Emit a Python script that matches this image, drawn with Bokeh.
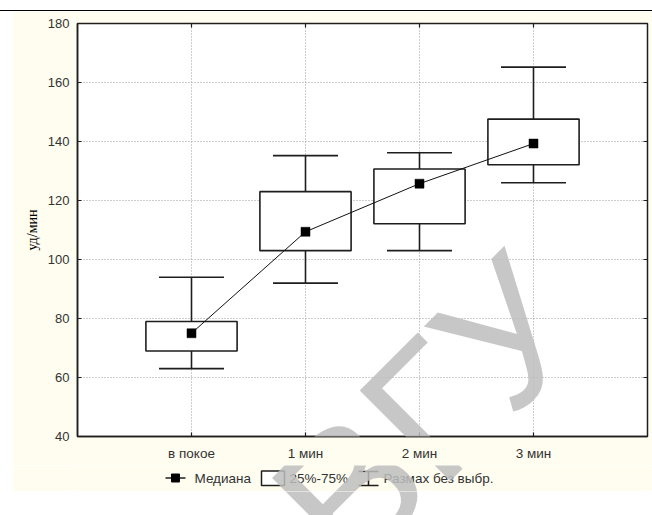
import math
from bokeh.plotting import figure
from bokeh.layouts import column
from bokeh.models import Range1d, FixedTicker, Label, ColumnDataSource, Div
from bokeh.transform import dodge
from bokeh.core.properties import value
from bokeh.embed import file_html
from bokeh.resources import INLINE

# ---------------- data ----------------
categories = ["в покое", "1 мин", "2 мин", "3 мин"]
medians = [75.0, 109.4, 125.7, 139.3]
q25 = [69.0, 103.0, 112.1, 132.1]
q75 = [79.0, 123.0, 130.7, 147.6]
whisker_low = [63.0, 92.0, 103.0, 126.0]
whisker_high = [94.0, 135.2, 136.2, 165.2]
y_ticks = [40, 60, 80, 100, 120, 140, 160, 180]
y_label = "уд/мин"
legend_labels = ["Медиана", "25%-75%", "Размах без выбр."]
watermark_text = "ВГУ"

x_pos = list(range(1, len(categories) + 1))

# ---------------- layout / style (page pixels) ----------------
PAGE_W, PAGE_H = 652, 515
RULE_Y = 10
CHART_X, CHART_W = 12, 640
CHART_TOP, CHART_BOT = 11, 465
CREAM_BOT = 491
FR_L, FR_T, FR_R, FR_B = 77, 23, 647, 436   # plot frame in page pixels
B_LEFT = FR_L - CHART_X
B_RIGHT = CHART_X + CHART_W - FR_R
CREAM = "#fffdf0"
INK = "#1e1e1e"
LABEL_INK = "#333333"
FONT = "Liberation Sans"
BOX_W = 0.8
CAP_W = 0.57
WM = dict(px=427, py=412, size="186px", color="#bdbdbd", alpha=0.85, angle=45)

X0, X1 = 0, len(categories) + 1
Y0, Y1 = y_ticks[0], y_ticks[-1]


def dxc(px):
    return X0 + (px - FR_L) * (X1 - X0) / (FR_R - FR_L)


def dyc(py):
    return Y1 - (py - FR_T) * (Y1 - Y0) / (FR_B - FR_T)


def watermark(x, y):
    return Label(x=x, y=y, text=watermark_text, angle=WM["angle"], angle_units="deg",
                 text_font=FONT, text_font_size=WM["size"], text_color=WM["color"],
                 text_alpha=WM["alpha"], text_align="center", text_baseline="middle",
                 level="overlay")


def strip(top_px, bot_px, fill):
    """a figure whose frame is aligned with the chart frame; data coords = page pixels"""
    f = figure(width=CHART_W, height=bot_px - top_px, x_range=Range1d(FR_L, FR_R),
               y_range=Range1d(bot_px, top_px), output_backend="svg", toolbar_location=None,
               x_axis_type=None, y_axis_type=None,
               min_border_left=B_LEFT, min_border_right=B_RIGHT,
               min_border_top=0, min_border_bottom=0,
               background_fill_color=fill, border_fill_color=fill)
    f.margin = (0, 0, 0, CHART_X)
    f.outline_line_color = None
    f.xgrid.visible = False
    f.ygrid.visible = False
    f.add_layout(watermark(WM["px"], WM["py"]))
    return f


# ---------------- top rule ----------------
rule = Div(text="", width=PAGE_W, height=1, margin=(RULE_Y, 0, 0, 0),
           styles={"background-color": "black"})

# ---------------- chart ----------------
p = figure(width=CHART_W, height=CHART_BOT - CHART_TOP,
           x_range=Range1d(X0, X1), y_range=Range1d(Y0, Y1),
           output_backend="svg", toolbar_location=None,
           min_border_left=B_LEFT, min_border_right=B_RIGHT,
           min_border_top=FR_T - CHART_TOP, min_border_bottom=CHART_BOT - FR_B,
           background_fill_color="white", border_fill_color=CREAM)
p.margin = (0, 0, 0, CHART_X)
p.outline_line_color = INK
p.outline_line_width = 1.5

p.xaxis.ticker = FixedTicker(ticks=x_pos)
p.xaxis.major_label_overrides = {x: c for x, c in zip(x_pos, categories)}
p.yaxis.ticker = FixedTicker(ticks=y_ticks)
p.yaxis.axis_label = y_label
for ax in (p.xaxis[0], p.yaxis[0]):
    ax.major_tick_in = 4
    ax.major_tick_out = 0
    ax.minor_tick_in = 0
    ax.minor_tick_out = 0
    ax.axis_line_color = INK
    ax.axis_line_width = 1.5
    ax.major_tick_line_color = INK
    ax.major_tick_line_width = 1.2
    ax.major_label_text_font = FONT
    ax.major_label_text_color = LABEL_INK
    ax.major_label_standoff = 8
p.yaxis.major_label_text_font_size = "13px"
p.xaxis.major_label_text_font_size = "13.5px"
p.xaxis.major_label_standoff = 9
p.yaxis.axis_label_text_font = "Liberation Serif"
p.yaxis.axis_label_text_font_style = "normal"
p.yaxis.axis_label_text_font_size = "14px"
p.yaxis.axis_label_text_color = "black"
p.yaxis.axis_label_standoff = 5

p.xgrid.ticker = FixedTicker(ticks=x_pos)
p.ygrid.ticker = FixedTicker(ticks=y_ticks)
for g in (p.xgrid[0], p.ygrid[0]):
    g.grid_line_color = "#9a9a9a"
    g.grid_line_dash = "1 2"
    g.grid_line_width = 1

# inner ticks on the top and right edges (half of each dash is clipped by the frame)
p.scatter(x=[X1] * len(y_ticks), y=y_ticks, marker="dash", size=8,
          line_color=INK, line_width=1.2)
p.scatter(x=x_pos, y=[Y1] * len(x_pos), marker="dash", angle=math.pi / 2, size=8,
          line_color=INK, line_width=1.2)

src = ColumnDataSource(dict(x=x_pos, med=medians, q1=q25, q3=q75,
                            lo=whisker_low, hi=whisker_high))
p.segment(x0="x", y0="lo", x1="x", y1="hi", source=src, line_color=INK, line_width=1.6)
p.vbar(x="x", width=BOX_W, bottom="q1", top="q3", source=src,
       fill_color="white", line_color=INK, line_width=1.6)
p.segment(x0=dodge("x", -CAP_W / 2), y0="lo", x1=dodge("x", CAP_W / 2), y1="lo",
          source=src, line_color=INK, line_width=1.6)
p.segment(x0=dodge("x", -CAP_W / 2), y0="hi", x1=dodge("x", CAP_W / 2), y1="hi",
          source=src, line_color=INK, line_width=1.6)
p.line(x="x", y="med", source=src, line_color="#111111", line_width=1)
p.scatter(x="x", y="med", source=src, marker="square", size=9,
          fill_color="black", line_color="black", line_width=0.5)
p.add_layout(watermark(dxc(WM["px"]), dyc(WM["py"])))

# ---------------- legend strip (cream) ----------------
lg = strip(CHART_BOT, CREAM_BOT, CREAM)
LEG_Y = 477.5
lg.segment(x0=[165], y0=[LEG_Y], x1=[185], y1=[LEG_Y], line_color=INK, line_width=1.6)
lg.scatter(x=[175], y=[LEG_Y], marker="square", size=8, fill_color="black", line_color="black")
lg.quad(left=[261], right=[284], top=[470.5], bottom=[485],
        fill_color="white", line_color=INK, line_width=1.5)
lg.segment(x0=[358, 358, 368], y0=[471, 485, 471], x1=[378, 378, 368], y1=[471, 485, 485],
           line_color=INK, line_width=1.6)
lg.text(x=[194, 289, 383], y=[LEG_Y] * 3, text=legend_labels, text_font=value(FONT),
        text_font_size="13.5px", text_color=LABEL_INK, text_align="left",
        text_baseline="middle")

# ---------------- bottom white strip (only the watermark shows) ----------------
bt = strip(CREAM_BOT, PAGE_H, "white")

page = column(rule, p, lg, bt, spacing=0)
open("out.html", "w").write(file_html(page, INLINE))
